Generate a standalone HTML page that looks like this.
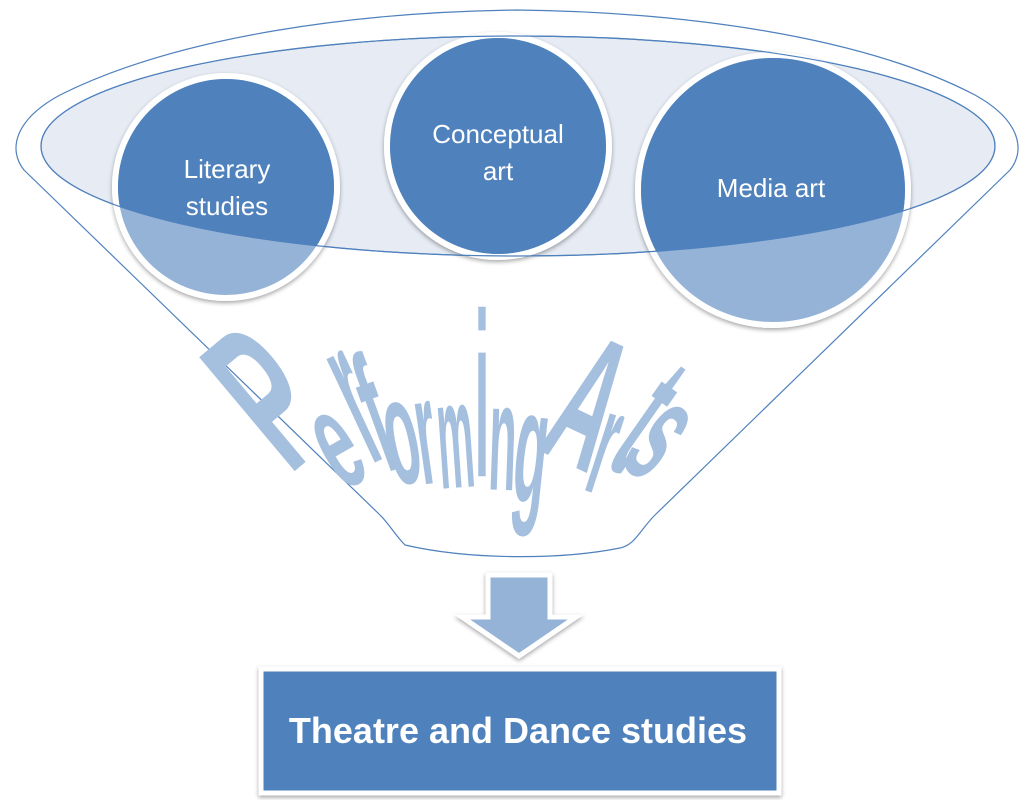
<!DOCTYPE html>
<html><head><meta charset="utf-8"><style>
html,body{margin:0;padding:0;background:#fff;}
svg{display:block;}
</style></head><body>
<svg width="1034" height="800" viewBox="0 0 1034 800" xmlns="http://www.w3.org/2000/svg">
<defs>
<clipPath id="ell"><ellipse cx="518" cy="146" rx="477" ry="110"/></clipPath>
<filter id="sh" x="-10%" y="-10%" width="120%" height="130%"><feDropShadow dx="0" dy="2" stdDeviation="2" flood-color="#000" flood-opacity="0.35"/></filter>
</defs>
<!-- outer funnel -->
<path d="M 24 170 C 8 150, 14 120, 60 95 C 180 35, 360 12, 517 10 C 680 12, 860 35, 975 95 C 1020 120, 1026 150, 1010 170 L 655 515 C 640 530, 635 545, 620 548 C 560 560, 470 560, 405 545 C 395 535, 390 525, 380 515 Z" fill="#fff" stroke="#4f81bd" stroke-width="1.2"/>
<!-- inner ellipse -->
<ellipse cx="518" cy="146" rx="477" ry="110" fill="#e6ebf4" stroke="#4f81bd" stroke-width="1.2"/>
<!-- circles -->
<g>
<circle cx="226" cy="187" r="111" fill="#95b3d7" stroke="#fff" stroke-width="6" filter="url(#sh)"/>
<circle cx="498" cy="146" r="111" fill="#95b3d7" stroke="#fff" stroke-width="6" filter="url(#sh)"/>
<circle cx="773" cy="190" r="135" fill="#95b3d7" stroke="#fff" stroke-width="6" filter="url(#sh)"/>
<g clip-path="url(#ell)">
<circle cx="226" cy="187" r="108" fill="#4f81bd"/>
<circle cx="498" cy="146" r="108" fill="#4f81bd"/>
<circle cx="773" cy="190" r="132" fill="#4f81bd"/>
</g>
<ellipse cx="518" cy="146" rx="477" ry="110" fill="none" stroke="#4f81bd" stroke-width="1.2"/>
</g>
<g font-family="Liberation Sans, sans-serif" font-size="26" fill="#fff" text-anchor="middle">
<text x="227" y="178">Literary</text>
<text x="227" y="215">studies</text>
<text x="498" y="143">Conceptual</text>
<text x="498" y="180">art</text>
<text x="771" y="197">Media art</text>
</g>
<!-- WordArt -->
<g font-family="Liberation Sans, sans-serif" font-weight="bold" font-size="90" fill="#a5bfdf" text-anchor="middle" dominant-baseline="central">
<text transform="translate(267,397) rotate(-40) scale(1.1,2.4)">P</text>
<text transform="translate(333,440) rotate(-30) scale(0.7,1.6)">e</text>
<text transform="translate(350,392) rotate(-25) scale(0.65,2.4)">r</text>
<text transform="translate(375,415) rotate(-20) scale(0.65,1.9)">f</text>
<text transform="translate(400,432) rotate(-12) scale(0.6,1.7)">o</text>
<text transform="translate(425,432) rotate(-8) scale(0.55,1.7)">r</text>
<text transform="translate(455,435) rotate(-4) scale(0.45,1.7)">m</text>
<text transform="translate(482,395) rotate(0) scale(0.6,2.6)">i</text>
<text transform="translate(503,437) rotate(2) scale(0.5,1.7)">n</text>
<text transform="translate(532,447) rotate(6) scale(0.6,1.8)">g</text>
<text transform="translate(590,402) rotate(25) scale(0.9,2.1)">A</text>
<text transform="translate(607,443) rotate(18) scale(0.55,1.7)">r</text>
<text transform="translate(650,415) rotate(35) scale(0.7,2.1)">t</text>
<text transform="translate(665,432) rotate(40) scale(0.7,1.7)">s</text>
</g>
<!-- arrow -->
<path d="M 488 575 L 550 575 L 550 617 L 576 617 L 519 656 L 462 617 L 488 617 Z" fill="#95b3d7" stroke="#fff" stroke-width="5" filter="url(#sh)"/>
<!-- box -->
<rect x="261" y="669" width="518" height="124" fill="#4f81bd" stroke="#fff" stroke-width="5" filter="url(#sh)"/>
<text x="518" y="743" font-family="Liberation Sans, sans-serif" font-weight="bold" font-size="36" fill="#fff" text-anchor="middle">Theatre and Dance studies</text>
</svg>
</body></html>
